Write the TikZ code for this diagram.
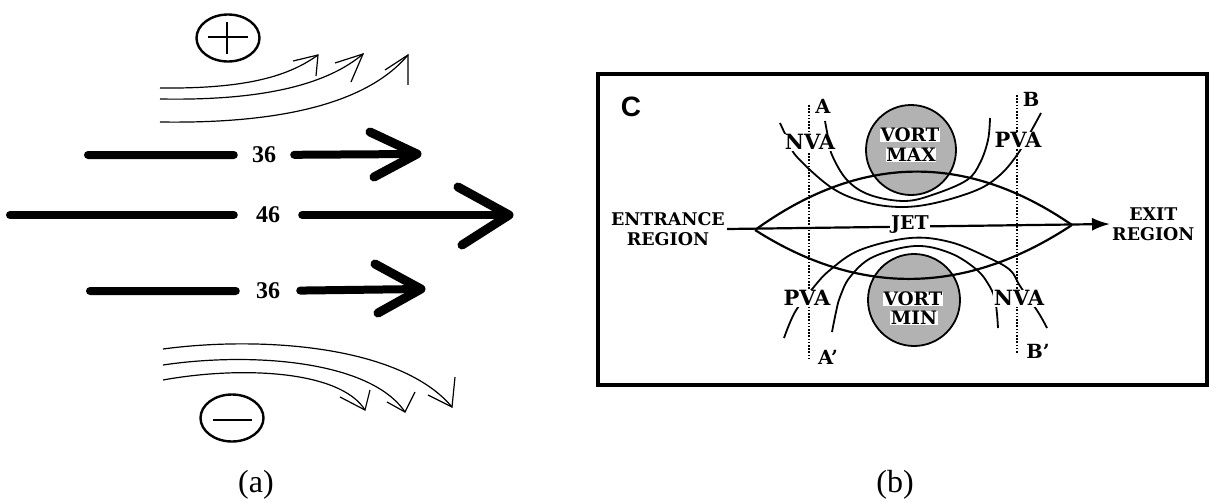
\documentclass[tikz,border=0pt]{standalone}
\usepackage{fontspec}
\setmainfont{Liberation Serif}
\newfontfamily\slabfont{DejaVu Serif}
\newfontfamily\sansfont{Liberation Sans}
\usetikzlibrary{arrows.meta,shapes.geometric}
\begin{document}
\begin{tikzpicture}[x=1pt,y=-1pt,
  shaft/.style={line width=8pt, line cap=round},
  chevron/.style={line width=9pt, line cap=round, line join=round},
  speed/.style={font=\bfseries\fontsize{24}{24}\selectfont, inner ysep=0pt, inner xsep=18pt},
  flow/.style={line width=1.2pt},
  signring/.style={draw, ellipse, line width=2.4pt, minimum width=63pt, minimum height=47pt, inner sep=0pt},
  caption/.style={font=\fontsize{32}{32}\selectfont},
  frame/.style={line width=3.5pt},
  vortex/.style={circle, draw, line width=1.8pt, fill=black!30, inner sep=0pt},
  lens/.style={line width=2.2pt},
  contour/.style={line width=1.8pt},
  section/.style={line width=2pt, dash pattern=on 1.6pt off 1.6pt},
  lab/.style={font=\slabfont\bfseries\fontsize{17.5}{20}\selectfont, inner sep=1pt, align=center},
  seclab/.style={font=\slabfont\bfseries\fontsize{19.5}{20}\selectfont, inner sep=1pt},
  vlab/.style={font=\slabfont\bfseries\fontsize{18.5}{20}\selectfont, fill=white, inner sep=0.5pt},
  va/.style={font=\slabfont\bfseries\fontsize{21}{21}\selectfont, fill=white, inner sep=1pt, text height=15pt, text depth=0pt},
]
\useasboundingbox (0,0) rectangle (1213,503);

% ---------------- panel (a) ----------------
\node[signring] (plus) at (228,38) {};
\draw[line width=2.6pt] (208,37) -- (248,37) (227,22) -- (227,54);

% upper thin curved arrows
\draw[flow] (160,88) .. controls (250,89) and (290,75) .. (318,55);
\draw[flow] (293,61) -- (318,55) -- (316,76);
\draw[flow] (160,99) .. controls (270,101) and (330,82) .. (363,54);
\draw[flow] (335,63) -- (363,54) -- (351,82);
\draw[flow] (160,122) .. controls (290,124) and (370,100) .. (408,55);
\draw[flow] (385,70) -- (408,55) -- (408,85);

% thick speed arrows
\coordinate (u0) at (88,155);
\node[speed] (s36a) at (264,155) {36};
\coordinate (u1) at (417,154);
\draw[shaft] (u0) -- (s36a) -- (u1);
\draw[chevron] (370,132) -- (u1) -- (374,177);

\coordinate (m0) at (10,215);
\node[speed, inner xsep=22pt] (s46) at (268,215) {46};
\coordinate (m1) at (509,215);
\draw[shaft] (m0) -- (s46) -- (m1);
\draw[chevron] (458,187) -- (m1) -- (462,245);

\coordinate (d0) at (90,291);
\node[speed, inner xsep=20pt] (s36b) at (268,291) {36};
\coordinate (d1) at (421,289);
\draw[shaft] (d0) -- (s36b) -- (d1);
\draw[chevron] (375,264) -- (d1) -- (378,313);

% lower thin curved arrows
\draw[flow] (163,349) .. controls (260,336) and (400,345) .. (452,407);
\draw[flow] (428,395) -- (452,407) -- (455,377);
\draw[flow] (163,365) .. controls (250,352) and (370,360) .. (405,412);
\draw[flow] (387,402) -- (405,412) -- (415,392);
\draw[flow] (163,380) .. controls (240,366) and (340,370) .. (365,410);
\draw[flow] (340,397) -- (365,410) -- (370,390);

\node[signring] (minus) at (232,418) {};
\draw[line width=2.6pt] (213,420) -- (252,420);

\node[caption] (capa) at (256,485) {(a)};

% ---------------- panel (b) ----------------
\draw[frame] (598,74) rectangle (1207,385);
\node[font=\sansfont\bfseries\fontsize{28}{28}\selectfont, inner sep=0pt] (cl) at (631,107) {C};

\node[vortex, minimum size=90pt] (vmax) at (911,150) {};
\node[vortex, minimum size=92pt] (vmin) at (914,300) {};

% lens
\draw[lens] (755,230) .. controls (860,154) and (966,152) .. (1072,225);
\draw[lens] (755,230) .. controls (860,297) and (966,295) .. (1072,225);

% contour lines around the vorticity centres
\draw[contour] plot[smooth, tension=0.6] coordinates {(780,123) (788,140) (797,157) (832,188) (865,202) (900,207) (935,203) (977,190) (1000,175) (1017,155) (1030,133) (1041,113)};
\draw[contour] plot[smooth, tension=0.6] coordinates {(825,121) (828,137) (832,155) (847,180) (870,195) (905,201) (935,194) (967,180) (980,163) (988,140) (990,118)};
\draw[contour] plot[smooth, tension=0.6] coordinates {(784,338) (795,312) (813,288) (830,270) (860,250) (910,238) (950,242) (987,257) (1010,270) (1020,286) (1038,312) (1047,328)};
\draw[contour] plot[smooth, tension=0.6] coordinates {(832,332) (836,312) (840,297) (850,277) (873,257) (915,246) (950,253) (977,270) (990,287) (995,300) (997,314) (998,328)};

% entrance / exit and jet axis
\node[lab, anchor=east, inner sep=2pt] (entr) at (727,229) {ENTRANCE\\REGION};
\node[lab, anchor=west, inner sep=2pt] (exit) at (1110,224) {EXIT\\REGION};
\draw[lens, -{Latex[length=18pt,width=13pt]}] (entr.east) -- (exit.west);
\node[lab, font=\slabfont\bfseries\fontsize{19}{20}\selectfont, fill=white, inner sep=1.5pt] (jet) at (910,225) {JET};

% cross sections
\coordinate (aT) at (809,105);
\coordinate (aB) at (809,360);
\coordinate (bT) at (1017,95);
\coordinate (bB) at (1017,353);
\draw[section] (aT) -- (aB);
\draw[section] (bT) -- (bB);
\node[seclab] (la) at (823,106) {A};
\node[seclab] (lap) at (828,357) {A’};
\node[seclab] (lb) at (1031,99) {B};
\node[seclab] (lbp) at (1038,351) {B’};

% vorticity advection labels
\node[va] (nva1) at (810,142) {NVA};
\node[va] (pva1) at (1018,140) {PVA};
\node[va] (pva2) at (807,298) {PVA};
\node[va] (nva2) at (1019,298) {NVA};

% vortex labels
\node[vlab] (vx1) at (910,135) {VORT};
\node[vlab] (vx2) at (911,155) {MAX};
\node[vlab] (vn1) at (913,299) {VORT};
\node[vlab] (vn2) at (914,318) {MIN};

\node[caption] (capb) at (895,485) {(b)};
\end{tikzpicture}
\end{document}
